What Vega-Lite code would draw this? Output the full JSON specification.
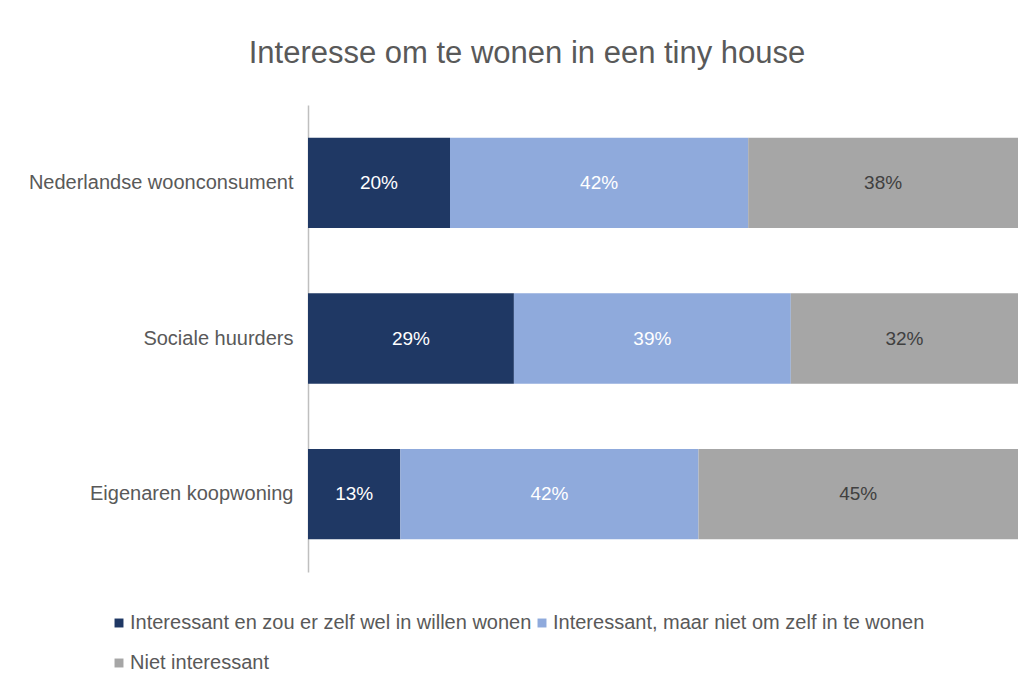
{
  "$schema": "https://vega.github.io/schema/vega-lite/v6.json",
  "autosize": "none",
  "width": 710,
  "height": 467,
  "padding": {"left": 308, "top": 105, "right": 18, "bottom": 121},
  "background": "white",
  "title": {
    "text": "Interesse om te wonen in een tiny house",
    "font": "Liberation Sans, Arial, sans-serif",
    "fontSize": 31,
    "fontWeight": "normal",
    "color": "#595959",
    "anchor": "middle",
    "dx": -136,
    "offset": 35
  },
  "data": {
    "values": [
      {"group": "Nederlandse woonconsument", "cat": "Interessant en zou er zelf wel in willen wonen", "order": 1, "value": 0.20},
      {"group": "Nederlandse woonconsument", "cat": "Interessant, maar niet om zelf in te wonen", "order": 2, "value": 0.42},
      {"group": "Nederlandse woonconsument", "cat": "Niet interessant", "order": 3, "value": 0.38},
      {"group": "Sociale huurders", "cat": "Interessant en zou er zelf wel in willen wonen", "order": 1, "value": 0.29},
      {"group": "Sociale huurders", "cat": "Interessant, maar niet om zelf in te wonen", "order": 2, "value": 0.39},
      {"group": "Sociale huurders", "cat": "Niet interessant", "order": 3, "value": 0.32},
      {"group": "Eigenaren koopwoning", "cat": "Interessant en zou er zelf wel in willen wonen", "order": 1, "value": 0.13},
      {"group": "Eigenaren koopwoning", "cat": "Interessant, maar niet om zelf in te wonen", "order": 2, "value": 0.42},
      {"group": "Eigenaren koopwoning", "cat": "Niet interessant", "order": 3, "value": 0.45}
    ]
  },
  "transform": [
    {"stack": "value", "groupby": ["group"], "sort": [{"field": "order", "order": "ascending"}], "as": ["start", "end"]},
    {"calculate": "(datum.start + datum.end) / 2", "as": "mid"}
  ],
  "encoding": {
    "y": {
      "field": "group",
      "type": "nominal",
      "sort": ["Nederlandse woonconsument", "Sociale huurders", "Eigenaren koopwoning"],
      "scale": {"paddingInner": 0.42, "paddingOuter": 0.21},
      "axis": {
        "title": null,
        "ticks": false,
        "domainColor": "#BFBFBF",
        "domainWidth": 1.5,
        "labelFont": "Liberation Sans, Arial, sans-serif",
        "labelFontSize": 20,
        "labelColor": "#595959",
        "labelPadding": 15,
        "labelLimit": 300
      }
    }
  },
  "layer": [
    {
      "mark": {"type": "bar"},
      "encoding": {
        "x": {
          "field": "start",
          "type": "quantitative",
          "scale": {"domain": [0, 1], "nice": false},
          "axis": null
        },
        "x2": {"field": "end"},
        "color": {
          "field": "cat",
          "type": "nominal",
          "scale": {
            "domain": ["Interessant en zou er zelf wel in willen wonen", "Interessant, maar niet om zelf in te wonen", "Niet interessant"],
            "range": ["#1F3864", "#8FAADC", "#A6A6A6"]
          },
          "legend": {
            "title": null,
            "orient": "none",
            "legendX": -199,
            "legendY": 508,
            "direction": "horizontal",
            "columns": 2,
            "columnPadding": 0,
            "rowPadding": 20,
            "symbolType": "square",
            "symbolSize": 80,
            "symbolStrokeWidth": 0,
            "labelFont": "Liberation Sans, Arial, sans-serif",
            "labelFontSize": 20,
            "labelColor": "#595959",
            "labelOffset": 1,
            "labelLimit": 600
          }
        }
      }
    },
    {
      "mark": {"type": "text", "font": "Liberation Sans, Arial, sans-serif", "fontSize": 19, "baseline": "middle", "align": "center"},
      "encoding": {
        "x": {"field": "mid", "type": "quantitative"},
        "text": {"field": "value", "type": "quantitative", "format": ".0%"},
        "color": {
          "condition": {"test": "datum.cat === 'Niet interessant'", "value": "#404040"},
          "value": "#FFFFFF"
        }
      }
    }
  ],
  "config": {
    "view": {"stroke": null}
  }
}
